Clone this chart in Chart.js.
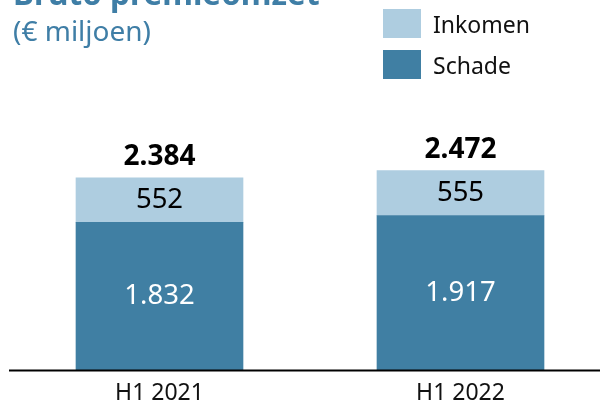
<!DOCTYPE html>
<html lang="nl">
<head>
  <meta charset="UTF-8">
  <title>Bruto premieomzet</title>
  <script src="https://cdn.jsdelivr.net/npm/chart.js"></script>
  <style>
    html, body { margin: 0; padding: 0; background: #fff; }
    #wrap { width: 600px; height: 403px; position: relative; }
  </style>
</head>
<body>
  <div id="wrap"><canvas id="myChart"></canvas></div>

  <script>
    // Data (€ miljoen)
    const categories = ['H1 2021', 'H1 2022'];
    const schade = [1832, 1917];
    const inkomen = [552, 555];

    const blue = '#407fa3';
    const lightBlue = '#aecde0';
    const titleColor = '#3f7ea6';
    const FONT = '"Noto Sans", sans-serif';

    // 1832 -> "1.832"
    function fmt(v) {
      return String(v).replace(/\B(?=(\d{3})+(?!\d))/g, '.');
    }

    // title, legend, axis line and value labels
    const decor = {
      id: 'decor',
      afterDraw(chart) {
        const ctx = chart.ctx;
        const y = chart.scales.y;
        ctx.save();

        // title + subtitle
        ctx.fillStyle = titleColor;
        ctx.textAlign = 'left';
        ctx.textBaseline = 'alphabetic';
        ctx.font = 'bold 31.5px ' + FONT;
        ctx.fillText('Bruto premieomzet', 13, 5);
        ctx.font = '28px ' + FONT;
        ctx.fillText('(€ miljoen)', 13, 41);

        // legend (Inkomen above Schade)
        const ds = chart.data.datasets;
        [ds[1], ds[0]].forEach((d, i) => {
          const top = 9 + i * 41;
          ctx.fillStyle = d.backgroundColor;
          ctx.fillRect(383, top, 38, 29);
          ctx.fillStyle = '#111';
          ctx.font = '23px ' + FONT;
          ctx.fillText(d.label, 433, top + 24);
        });

        // baseline
        const y0 = y.getPixelForValue(0);
        ctx.strokeStyle = '#000';
        ctx.lineWidth = 2;
        ctx.beginPath();
        ctx.moveTo(9, y0);
        ctx.lineTo(600, y0);
        ctx.stroke();

        // segment labels
        ctx.textAlign = 'center';
        ctx.textBaseline = 'middle';
        const m0 = chart.getDatasetMeta(0).data;
        const m1 = chart.getDatasetMeta(1).data;
        categories.forEach((c, i) => {
          const b0 = m0[i], b1 = m1[i];
          ctx.font = '27.5px ' + FONT;
          ctx.fillStyle = '#fff';
          ctx.fillText(fmt(schade[i]), b0.x, (b0.y + b0.base) / 2);
          ctx.fillStyle = '#000';
          ctx.fillText(fmt(inkomen[i]), b1.x, (b1.y + b1.base) / 2);
          ctx.font = 'bold 28px ' + FONT;
          ctx.fillText(fmt(schade[i] + inkomen[i]), b1.x, b1.y - 21);
        });
        ctx.restore();
      }
    };

    const ctx = document.getElementById('myChart').getContext('2d');
    new Chart(ctx, {
      type: 'bar',
      data: {
        labels: categories,
        datasets: [
          { label: 'Schade', data: schade, backgroundColor: blue, clip: false },
          { label: 'Inkomen', data: inkomen, backgroundColor: lightBlue, clip: false }
        ]
      },
      options: {
        responsive: true,
        maintainAspectRatio: false,
        animation: false,
        events: [],
        barThickness: 167,
        layout: { padding: { top: 128, left: 159.5, right: 139.5, bottom: -13 } },
        plugins: {
          legend: { display: false },
          tooltip: { enabled: false }
        },
        scales: {
          x: {
            stacked: true,
            offset: false,
            grid: { display: false, drawTicks: false },
            border: { display: false },
            ticks: { color: '#111', padding: 9, font: { family: FONT, size: 23 } }
          },
          y: {
            stacked: true,
            display: false,
            min: 0,
            max: 3000
          }
        }
      },
      plugins: [decor]
    });
  </script>
</body>
</html>
